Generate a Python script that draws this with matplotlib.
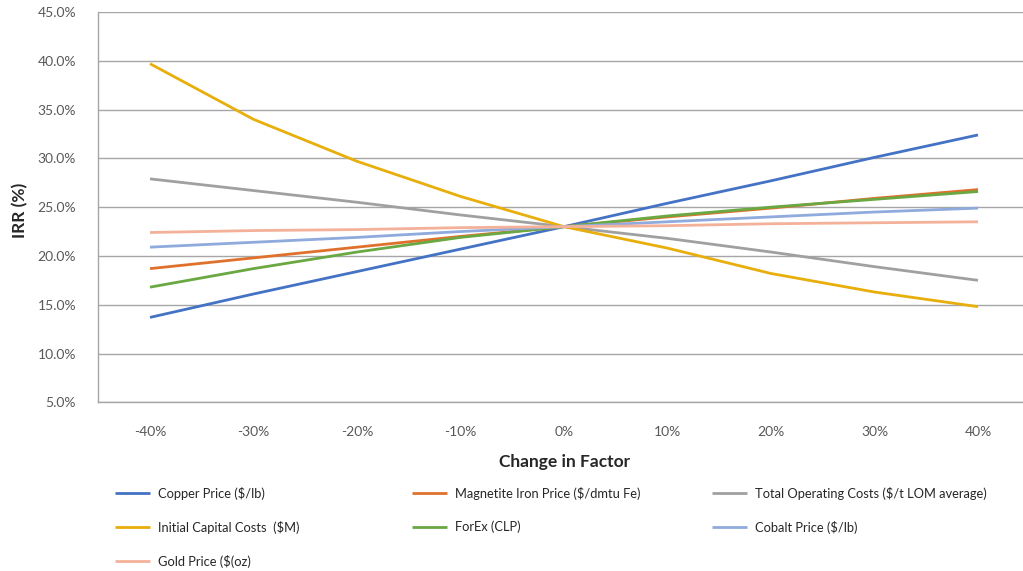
import matplotlib
matplotlib.use("Agg")
import matplotlib.pyplot as plt
from matplotlib.ticker import FuncFormatter

plt.rcParams['font.family'] = ['Lato', 'DejaVu Sans']

# Sensitivity of project IRR to changes in each input factor
factor_changes = ["-40%", "-30%", "-20%", "-10%", "0%", "10%", "20%", "30%", "40%"]

copper_price = [13.7, 16.1, 18.4, 20.7, 23.0, 25.4, 27.7, 30.1, 32.4]
magnetite_price = [18.7, 19.8, 20.9, 22.0, 23.0, 24.0, 24.9, 25.9, 26.8]
operating_costs = [27.9, 26.7, 25.5, 24.2, 23.0, 21.8, 20.4, 18.9, 17.5]
capital_costs = [39.7, 34.0, 29.7, 26.1, 23.0, 20.8, 18.2, 16.3, 14.8]
forex = [16.8, 18.7, 20.4, 21.9, 23.0, 24.1, 25.0, 25.8, 26.6]
cobalt_price = [20.9, 21.4, 21.9, 22.5, 23.0, 23.5, 24.0, 24.5, 24.9]
gold_price = [22.4, 22.6, 22.7, 22.9, 23.0, 23.1, 23.3, 23.4, 23.5]

series = [
    ("Copper Price ($/lb)", copper_price, "#4472C4"),
    ("Magnetite Iron Price ($/dmtu Fe)", magnetite_price, "#E0712C"),
    ("Total Operating Costs ($/t LOM average)", operating_costs, "#A0A0A0"),
    ("Initial Capital Costs  ($M)", capital_costs, "#E8AE0C"),
    ("ForEx (CLP)", forex, "#6AA843"),
    ("Cobalt Price ($/lb)", cobalt_price, "#8FAADC"),
    ("Gold Price ($(oz)", gold_price, "#F4B19A"),
]

W, H = 1023, 571
fig = plt.figure(figsize=(W / 100, H / 100), dpi=100)
ax = fig.add_axes([98.25 / W, 1 - 402.3 / H, 931.5 / W, 390.3 / H])

x = list(range(len(factor_changes)))
handles = {}
for name, vals, color in series:
    (ln,) = ax.plot(x, vals, color=color, lw=2.0, label=name, solid_capstyle='butt')
    handles[name] = ln

ax.set_xlim(-0.5, len(factor_changes) - 0.5)
ax.set_ylim(5, 45)
ax.set_yticks([5, 10, 15, 20, 25, 30, 35, 40, 45])
ax.yaxis.set_major_formatter(FuncFormatter(lambda v, p: f"{v:.1f}%"))
ax.set_xticks(x)
ax.set_xticklabels(factor_changes)

ax.grid(axis='y', color='#A6A6A6', lw=1.0)
ax.set_axisbelow(True)
for s in ['top', 'right']:
    ax.spines[s].set_visible(False)
for s in ['left', 'bottom']:
    ax.spines[s].set_color('#A6A6A6')
    ax.spines[s].set_linewidth(1.0)
ax.tick_params(axis='both', length=0, labelsize=10, labelcolor='#595959')
ax.tick_params(axis='x', pad=17)
ax.tick_params(axis='y', pad=16)

fig.text(20 / W, 1 - 210 / H, "IRR (%)", rotation=90, ha='center', va='center',
         fontsize=12.5, fontweight='bold', color='#262626')
fig.text(565 / W, 1 - 462 / H, "Change in Factor", ha='center', va='center',
         fontsize=12.5, fontweight='bold', color='#262626')

# legend laid out in three columns beneath the plot
columns = [
    (115, ["Copper Price ($/lb)", "Initial Capital Costs  ($M)", "Gold Price ($(oz)"]),
    (412, ["Magnetite Iron Price ($/dmtu Fe)", "ForEx (CLP)"]),
    (712, ["Total Operating Costs ($/t LOM average)", "Cobalt Price ($/lb)"]),
]
for xpix, names in columns:
    fig.legend([handles[n] for n in names], names,
               loc='upper left', bbox_to_anchor=(xpix / W, 1 - 487 / H),
               frameon=False, fontsize=9.3, handlelength=2.7,
               handletextpad=0.6, labelspacing=1.62, borderpad=0,
               borderaxespad=0, labelcolor='#262626')

fig.savefig("out.png", dpi=100, facecolor='white')
